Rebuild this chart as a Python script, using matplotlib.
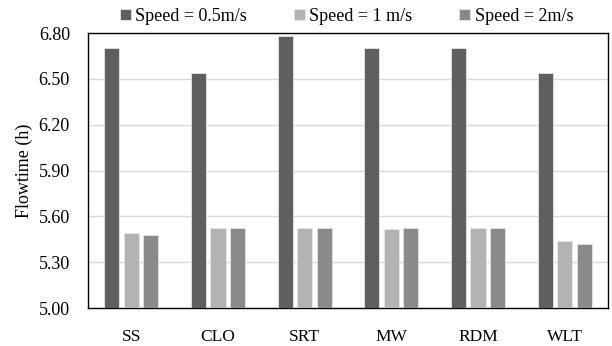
import numpy as np
import matplotlib
matplotlib.use("Agg")
import matplotlib.pyplot as plt

plt.rcParams['font.family'] = ['Liberation Serif', 'DejaVu Serif']

categories = ["SS", "CLO", "SRT", "MW", "RDM", "WLT"]
speed_05 = [6.70, 6.54, 6.78, 6.70, 6.70, 6.54]
speed_1 = [5.49, 5.525, 5.525, 5.517, 5.521, 5.44]
speed_2 = [5.48, 5.525, 5.525, 5.525, 5.521, 5.42]
labels = ["Speed = 0.5m/s", "Speed = 1 m/s", "Speed = 2m/s"]
colors = ["#5f5f5f", "#b3b3b3", "#8a8a8a"]
yticks = [5.00, 5.30, 5.60, 5.90, 6.20, 6.50, 6.80]

fig = plt.figure(figsize=(6.12, 3.46), dpi=100)
ax = fig.add_axes([0.1438, 0.1098, 0.8497, 0.7948])

x = np.arange(len(categories))
width = 0.175
step = 0.225
for i, (vals, lab, col) in enumerate(zip([speed_05, speed_1, speed_2], labels, colors)):
    ax.bar(x + (i - 1) * step, np.array(vals) - 5.0, width, bottom=5.0,
           color=col, edgecolor="#e6e6e6", linewidth=0.6, label=lab, zorder=3)

ax.set_xlim(-0.5, len(categories) - 0.5)
ax.set_ylim(5.0, 6.8)
ax.set_yticks(yticks)
ax.set_yticklabels([f"{v:.2f}" for v in yticks], fontsize=13)
ax.set_xticks(x)
ax.set_xticklabels(categories, fontsize=12.5)
ax.tick_params(axis='both', length=0)
ax.tick_params(axis='y', pad=13)
ax.tick_params(axis='x', pad=15)
ax.grid(axis='y', color="#d9d9d9", linewidth=1, zorder=0)
for s in ax.spines.values():
    s.set_color("black")
    s.set_linewidth(1)
ax.set_ylabel("Flowtime (h)", fontsize=13, labelpad=4)

fig.legend(loc="center", bbox_to_anchor=(0.566, 0.952), ncol=3, frameon=False,
           fontsize=13, handlelength=0.6, handleheight=0.6, handletextpad=0.25,
           columnspacing=2.6, borderpad=0)

fig.savefig("out.png", dpi=100)
